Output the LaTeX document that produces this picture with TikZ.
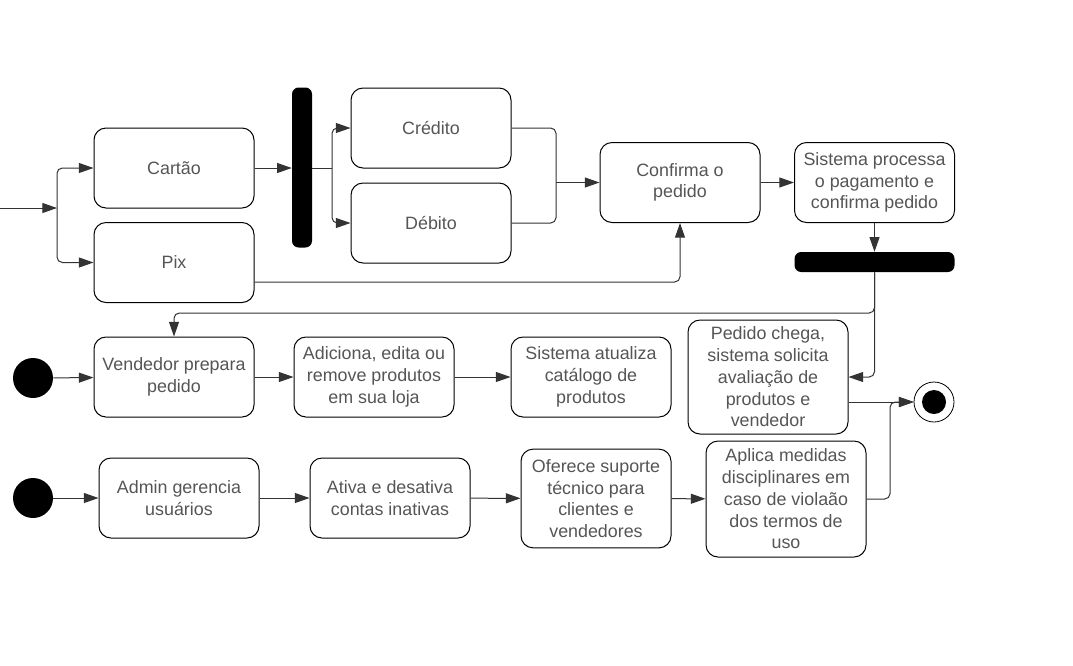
\documentclass[tikz,border=0pt]{standalone}
\usepackage{fontspec}
\setmainfont{Liberation Sans}
\usepackage{tikz}
\usetikzlibrary{arrows.meta,shapes,positioning,calc}
\usepackage{xcolor}
\definecolor{acttext}{RGB}{85,85,85}
\definecolor{actline}{RGB}{51,51,51}
\tikzstyle{activity} = [draw=black, line width=0.75pt, rounded corners=9pt, minimum width=120pt, minimum height=60pt, inner sep=0pt, align=center, text=acttext, font=\fontsize{13.4}{16.3}\selectfont]
\tikzstyle{bar} = [fill=black, rounded corners=5pt, inner sep=0pt]
\tikzstyle{startnode} = [circle, fill=black, minimum size=30pt, inner sep=0pt]
\tikzstyle{endnode} = [circle, draw=black, line width=0.6pt, minimum size=30pt, inner sep=0pt]
\tikzstyle{flow} = [line width=0.75pt, color=actline, rounded corners=4pt, -{Triangle[length=11pt,width=7.5pt]}]
\tikzstyle{link} = [line width=0.75pt, color=actline, rounded corners=4pt]

\begin{document}
\begin{tikzpicture}[x=0.75pt, y=-0.75pt]
\useasboundingbox (0,0) rectangle (1073,665);

% Pagamento
\coordinate (entrada) at (0,208);
\coordinate (splitA) at (57,208);
\node[activity] (cartao) at (174,168) {Cartão};
\node[activity] (pix) at (174,262.5) {Pix};
\node[bar, minimum width=15pt, minimum height=120pt] (forkA) at (302,167.5) {};
\coordinate (splitB) at (332,168);
\node[activity] (credito) at (431,128) {Crédito};
\node[activity] (debito) at (431,223) {Débito};
\coordinate (mergeA) at (556,182.5);
\node[activity] (confirma) at (680,182.5) {Confirma o\\pedido};
\node[activity] (processa) at (874.5,182.5) {Sistema processa\\o pagamento e\\confirma pedido};
\node[bar, minimum width=120pt, minimum height=15pt] (forkB) at (874.5,262) {};

\draw[flow] (entrada) -- (splitA);
\draw[flow] (splitA) |- (cartao);
\draw[flow] (splitA) |- (pix);
\draw[flow] (cartao) -- (forkA.west |- cartao);
\draw[link] (forkA.east |- splitB) -- (splitB);
\draw[flow] (splitB) |- (credito);
\draw[flow] (splitB) |- (debito);
\draw[link] (credito) -| (mergeA);
\draw[link] (debito) -| (mergeA);
\draw[flow] (mergeA) -- (confirma);
\draw[flow] ($(pix.east)+(0,19.5)$) -| (confirma.south);
\draw[flow] (confirma) -- (processa);
\draw[flow] (processa) -- (forkB);

% Vendedor
\coordinate (dobraB) at (874.5,313);
\node[startnode] (inicioA) at (33,378) {};
\node[activity] (vendedor) at (174,377) {Vendedor prepara\\pedido};
\node[activity] (adiciona) at (374,377) {Adiciona, edita ou\\remove produtos\\em sua loja};
\node[activity] (atualiza) at (591,377) {Sistema atualiza\\catálogo de\\produtos};
\node[activity, minimum height=85.5pt] (chega) at (768,377) {Pedido chega,\\sistema solicita\\avaliação de\\produtos e\\vendedor};
\node[endnode] (fim) at (934,402) {};
\fill (fim.center) circle (9pt);

\draw[flow] (forkB.south) -- (dobraB) -| (vendedor.north);
\draw[flow] (forkB.south) |- (chega.east);
\draw[flow] (inicioA) -- (vendedor);
\draw[flow] (vendedor) -- (adiciona);
\draw[flow] (adiciona) -- (atualiza);
\draw[flow] (chega.east |- fim) -- (fim);

% Admin
\coordinate (juntaC) at (890,402);
\node[startnode] (inicioB) at (33,498) {};
\node[activity] (admin) at (179,498) {Admin gerencia\\usuários};
\node[activity] (ativa) at (390,498) {Ativa e desativa\\contas inativas};
\node[activity, minimum width=112.5pt, minimum height=74pt] (suporte) at (596,498.5) {Oferece suporte\\técnico para\\clientes e\\vendedores};
\node[activity, minimum height=87pt] (medidas) at (786,499) {Aplica medidas\\disciplinares em\\caso de violaão\\dos termos de\\uso};

\draw[flow] (inicioB) -- (admin);
\draw[flow] (admin) -- (ativa);
\draw[flow] (ativa) -- (suporte);
\draw[flow] (suporte) -- (medidas);
\draw[flow] (medidas) -| (juntaC) -- (fim);
\end{tikzpicture}
\end{document}
